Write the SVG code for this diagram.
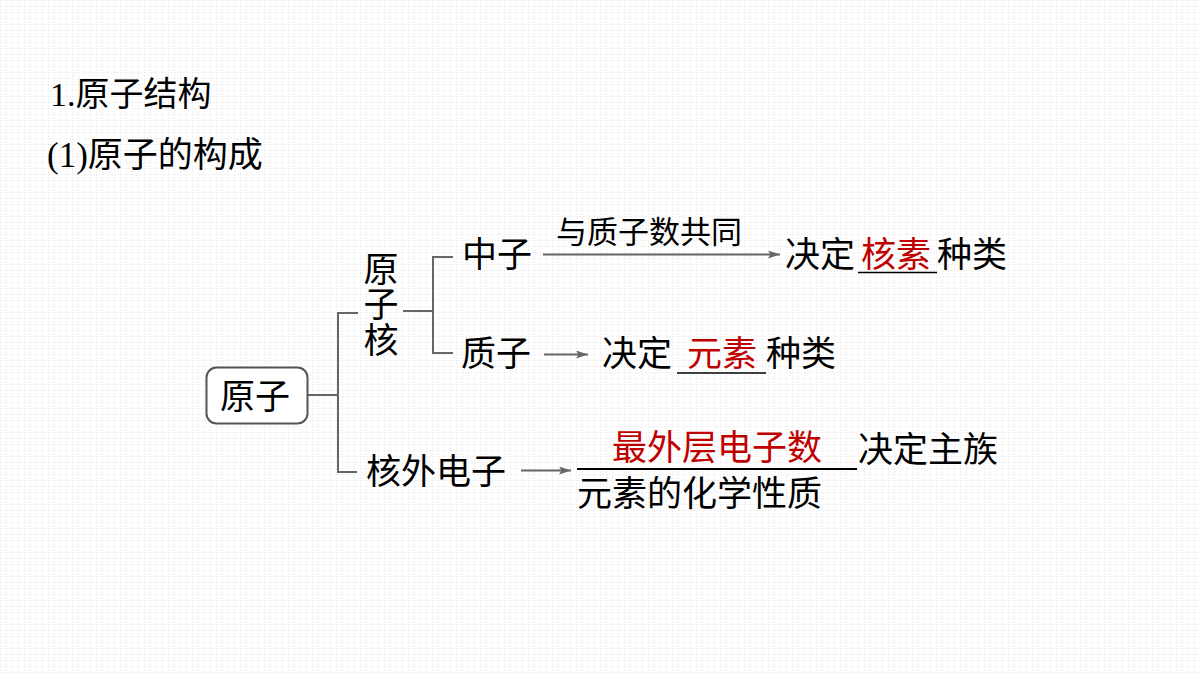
<svg xmlns="http://www.w3.org/2000/svg" width="1200" height="675" viewBox="0 0 1200 675">
  <defs>
    <pattern id="grid" width="6" height="6" patternUnits="userSpaceOnUse">
      <path d="M0 0.5H6M0.5 0V6" stroke="#f1f1f1" stroke-width="1" fill="none" stroke-dasharray="2 1"/>
    </pattern>
    <marker id="arrow" viewBox="0 0 12 8" refX="12" refY="4" markerWidth="12" markerHeight="8" markerUnits="userSpaceOnUse" orient="auto">
      <path d="M0 0L12 4L0 8L2.5 4Z" fill="#666"/>
    </marker>
    <style>
      text { font-family: "Liberation Serif", "Noto Sans CJK SC", serif; fill: #000; }
      .h { font-size: 34px; }
      .h2 { font-size: 35px; }
      .t { font-size: 35px; }
      .v { writing-mode: vertical-rl; letter-spacing: 0.5px; }
      .lbl { font-size: 31px; }
      .red { fill: #c00000; }
      .conn { stroke: #666; stroke-width: 2; fill: none; }
      .arr { stroke: #666; stroke-width: 2; fill: none; marker-end: url(#arrow); }
      .ul { stroke: #000; stroke-width: 1.6; }
    </style>
  </defs>

  <rect width="1200" height="675" fill="#fff"/>
  <rect width="1200" height="675" fill="url(#grid)"/>

  <!-- headings -->
  <g id="heading">
    <text class="h" x="50" y="106">1.原子结构</text>
    <text class="h2" x="47" y="167">(1)原子的构成</text>
  </g>

  <!-- tree connectors and arrows -->
  <g id="connectors">
    <path class="conn" d="M307 395H338M358 313H338V472H357"/>
    <path class="conn" d="M403 311H433M453 257H433V353H453"/>
    <path class="arr" d="M543 254.5H780"/>
    <path class="arr" d="M544 354.5H588"/>
    <path class="arr" d="M521 470.5H571"/>
  </g>

  <g id="atom">
    <rect x="206.5" y="367.5" width="101" height="56" rx="10" fill="#fff" stroke="#555" stroke-width="2"/>
    <text class="t" x="220" y="409">原子</text>
  </g>

  <!-- vertical label -->
  <g id="nucleus">
    <text class="t v" x="377" y="251">原子核</text>
  </g>

  <g id="neutron">
    <text class="t" x="462" y="267">中子</text>
    <text class="lbl" x="556" y="243">与质子数共同</text>
    <text class="t" x="785" y="267">决定</text>
    <line class="ul" x1="858" y1="272.5" x2="937" y2="272.5"/>
    <text class="t red" x="861" y="267">核素</text>
    <text class="t" x="937" y="267">种类</text>
  </g>

  <g id="proton">
    <text class="t" x="461" y="366">质子</text>
    <text class="t" x="602" y="366">决定</text>
    <line class="ul" x1="677" y1="373" x2="766" y2="373"/>
    <text class="t red" x="687" y="366">元素</text>
    <text class="t" x="766" y="366">种类</text>
  </g>

  <g id="electron">
    <text class="t" x="366" y="484">核外电子</text>
    <line x1="577" y1="469" x2="857" y2="469" stroke="#000" stroke-width="2"/>
    <text class="t red" x="612" y="460">最外层电子数</text>
    <text class="t" x="858" y="462">决定主族</text>
    <text class="t" x="577" y="506">元素的化学性质</text>
  </g>
</svg>
